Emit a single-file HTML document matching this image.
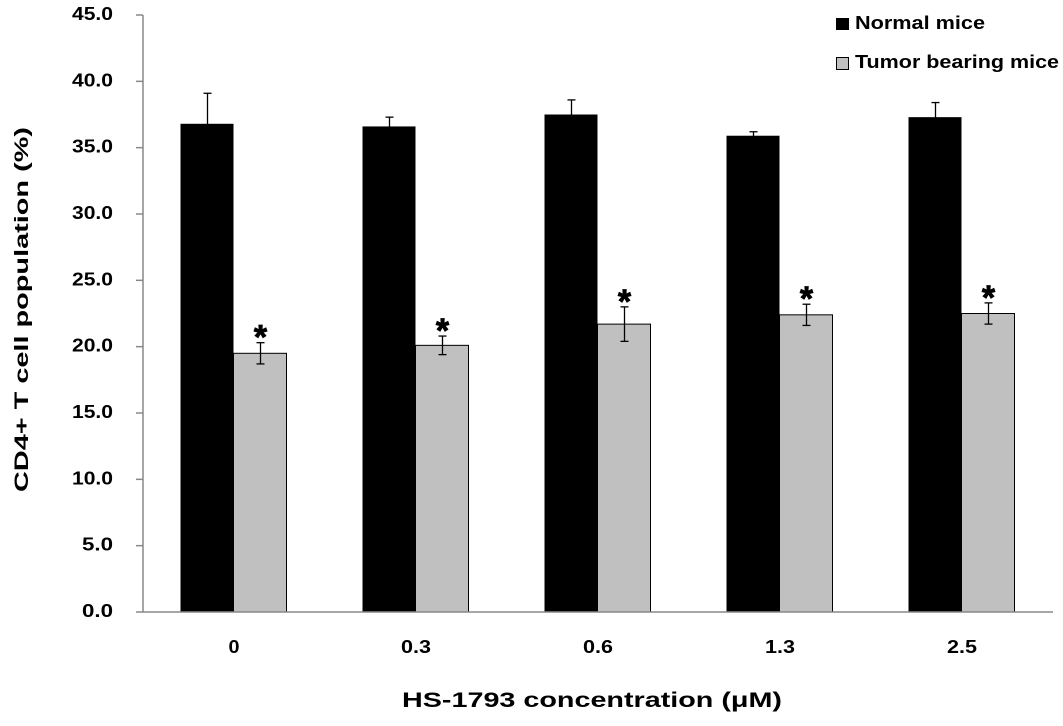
<!DOCTYPE html>
<html><head><meta charset="utf-8"><style>
body{margin:0;background:#fff;}
svg text{font-family:"Liberation Sans",Arial,sans-serif;font-weight:bold;}
</style></head><body>
<svg width="1063" height="721" id="chart"></svg>
<script>
const categories=["0","0.3","0.6","1.3","2.5"];
const normalValues=[36.8,36.6,37.5,35.9,37.3];
const normalErrors=[2.3,0.7,1.1,0.3,1.1];
const tumorValues=[19.5,20.1,21.7,22.4,22.5];
const tumorErrors=[0.8,0.7,1.3,0.8,0.8];
const yTicks=[0,5,10,15,20,25,30,35,40,45];

const svg=document.getElementById('chart');
const NS='http://www.w3.org/2000/svg';
const x0=143,y0=612,yTop=15,groupW=182,yMax=45;
const y=v=>y0-(v/yMax)*(y0-yTop);
function mk(t,a,p){const e=document.createElementNS(NS,t);for(const k in a)e.setAttribute(k,a[k]);(p||svg).appendChild(e);return e;}

yTicks.forEach(t=>{
  const l=mk('line',{x1:136,x2:x0,y1:y(t),y2:y(t),stroke:'#888','stroke-width':1.5});
  
  
  const s=t.toFixed(1);
  const w=s.length===4?41:31;
  const tx=mk('text',{x:113-w,y:y(t)+5,'font-size':18,textLength:w,lengthAdjust:'spacingAndGlyphs'});
  tx.textContent=s;
  
  
});

categories.forEach((c,i)=>{
  const cx=x0+groupW*(i+0.5);
  const bw=53;
  const b1=mk('rect',{x:cx-bw-0.5,y:y(normalValues[i]),width:bw,height:y0-y(normalValues[i]),fill:'#000'});
  
  
  const b2=mk('rect',{x:cx-0.5,y:y(tumorValues[i]),width:bw,height:y0-y(tumorValues[i]),fill:'#c0c0c0',stroke:'#000','stroke-width':1});
  
  
  [[cx-bw/2,normalValues[i],normalErrors[i]],[cx+bw/2,tumorValues[i],tumorErrors[i]]].forEach(([ex,v,e])=>{
    const g=mk('g',{stroke:'#000','stroke-width':1.3});
    
    
    mk('line',{x1:ex,x2:ex,y1:y(v+e),y2:y(v-e)},g);
    mk('line',{x1:ex-4,x2:ex+4,y1:y(v+e),y2:y(v+e)},g);
    mk('line',{x1:ex-4,x2:ex+4,y1:y(v-e),y2:y(v-e)},g);
  });
  const st=mk('text',{x:cx+bw/2,y:y(tumorValues[i]+tumorErrors[i])+6,'text-anchor':'middle','font-size':34,stroke:'#000','stroke-width':0.8});
  st.textContent='*';
  
  
  const lw=c.length===1?11:30;
  const xl=mk('text',{x:cx-lw/2,y:653,'font-size':18,textLength:lw,lengthAdjust:'spacingAndGlyphs'});
  xl.textContent=c;
  
  
});

const ax=mk('path',{d:`M${x0} ${yTop} V${y0} H${x0+groupW*5}`,fill:'none',stroke:'#888','stroke-width':1.5});


</script>
<svg width="1063" height="721" style="position:absolute;left:0;top:0">
<g>
<rect x="836" y="18" width="13" height="12" fill="#000"/>
<text x="855" y="29" font-size="18" textLength="130" lengthAdjust="spacingAndGlyphs">Normal mice</text>
<rect x="836.5" y="57.5" width="12" height="12" fill="#c0c0c0" stroke="#000"/>
<text x="855" y="68" font-size="18" textLength="204" lengthAdjust="spacingAndGlyphs">Tumor bearing mice</text>
</g>
<text x="402" y="707" font-size="21" textLength="380" lengthAdjust="spacingAndGlyphs">HS-1793 concentration  (μM)</text>
<text transform="translate(28,492) rotate(-90)" font-size="19" textLength="365" lengthAdjust="spacingAndGlyphs">CD4+  T cell population  (%)</text>
</svg>
</body></html>
